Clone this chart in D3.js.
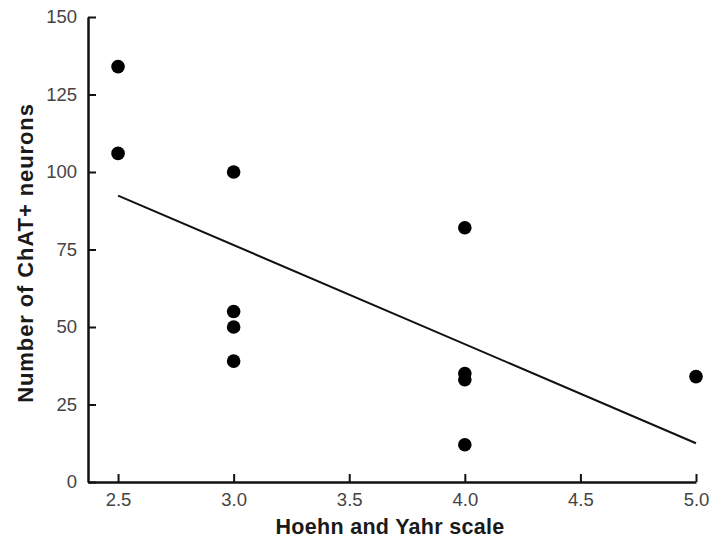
<!DOCTYPE html>
<html>
<head>
<meta charset="utf-8">
<script src="https://cdn.jsdelivr.net/npm/d3@7"></script>
<style>
  body { margin: 0; background: #fff; }
  text { font-family: "Liberation Sans", Arial, sans-serif; }
</style>
</head>
<body>
<div id="chart"></div>
<script>
// Hoehn and Yahr stage vs ChAT+ neuron count
const stageX = [2.5, 2.5, 3.0, 3.0, 3.0, 3.0, 4.0, 4.0, 4.0, 4.0, 5.0];
const neuronsY = [134, 106, 100, 55, 50, 39, 82, 35, 33, 12, 34];
const fitX = [2.5, 5.0];
const fitY = [92.4, 12.5];
const xTicks = [2.5, 3.0, 3.5, 4.0, 4.5, 5.0];
const yTicks = [0, 25, 50, 75, 100, 125, 150];

const w = 714, h = 540;
const padL = 88, padT = 17, padR = 696, padB = 482;

const svg = d3.select("#chart").append("svg")
  .attr("width", w)
  .attr("height", h);

const xScale = d3.scaleLinear().domain([2.37, 5.0]).range([padL, padR]);
const yScale = d3.scaleLinear().domain([0, 150]).range([padB, padT]);

const xAxis = d3.axisBottom(xScale)
  .tickValues(xTicks)
  .tickFormat(d3.format(".1f"))
  .tickSizeInner(-8)
  .tickSizeOuter(0)
  .tickPadding(11);
const yAxis = d3.axisLeft(yScale)
  .tickValues(yTicks)
  .tickSizeInner(-8)
  .tickSizeOuter(0)
  .tickPadding(11);

const gx = svg.append("g")
  .attr("transform", "translate(0," + padB + ")")
  .call(xAxis);
const gy = svg.append("g")
  .attr("transform", "translate(" + padL + ",0)")
  .call(yAxis);

[gx, gy].forEach(g => {
  g.select(".domain").attr("stroke", "#111").attr("stroke-width", 2.5);
  g.selectAll(".tick line").attr("stroke", "#111").attr("stroke-width", 2);
  g.selectAll(".tick text")
    .attr("fill", "#444")
    .style("font-size", "18.5px")
    .style("font-family", "'Liberation Sans', Arial, sans-serif");
});

// regression line
const line = d3.line()
  .x((d, i) => xScale(fitX[i]))
  .y(d => yScale(d));
svg.append("path")
  .datum(fitY)
  .attr("d", line)
  .attr("fill", "none")
  .attr("stroke", "#111")
  .attr("stroke-width", 2);

svg.selectAll("circle")
  .data(stageX)
  .enter()
  .append("circle")
  .attr("cx", d => xScale(d))
  .attr("cy", (d, i) => yScale(neuronsY[i]))
  .attr("r", 6.8)
  .attr("fill", "#000");

svg.append("text")
  .attr("x", 390)
  .attr("y", 534)
  .attr("text-anchor", "middle")
  .style("font-size", "21.5px")
  .style("font-weight", "bold")
  .style("letter-spacing", "0.3px")
  .attr("fill", "#1a1a1a")
  .text("Hoehn and Yahr scale");

svg.append("text")
  .attr("transform", "translate(33,253) rotate(-90)")
  .attr("text-anchor", "middle")
  .style("font-size", "22px")
  .style("font-weight", "bold")
  .style("letter-spacing", "0.9px")
  .attr("fill", "#1a1a1a")
  .text("Number of ChAT+ neurons");
</script>
</body>
</html>
